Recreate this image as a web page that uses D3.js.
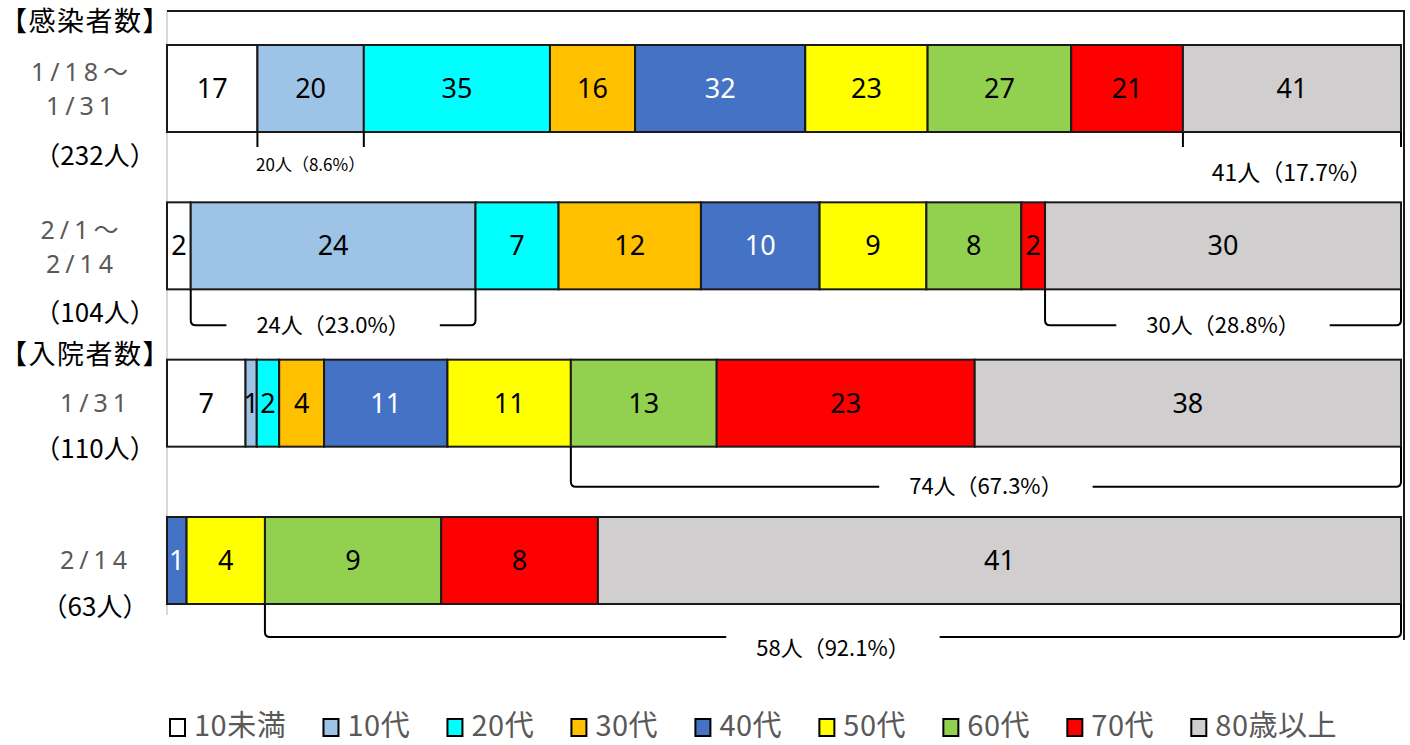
<!DOCTYPE html>
<html>
<head>
<meta charset="utf-8">
<script src="https://cdn.jsdelivr.net/npm/d3@7"></script>
<style>
  body { margin: 0; background: #fff; }
  svg { display: block; font-family: "Noto Sans CJK JP", "Noto Sans", sans-serif; }
</style>
</head>
<body>
<svg id="chart" width="1410" height="745"></svg>
<script>
// age groups and colours
const categories = ["10未満", "10代", "20代", "30代", "40代", "50代", "60代", "70代", "80歳以上"];
const colors = ["#ffffff", "#9dc3e6", "#00ffff", "#ffc000", "#4472c4", "#ffff00", "#92d050", "#ff0000", "#d0cece"];

// rows
const periods = [["1/18～", "1/31"], ["2/1～", "2/14"], ["1/31"], ["2/14"]];
const groupTitles = ["【感染者数】", "【入院者数】"];
const groupStart = [0, 2];

// counts per age group
const infectedJan = [17, 20, 35, 16, 32, 23, 27, 21, 41];
const infectedFeb = [2, 24, 7, 12, 10, 9, 8, 2, 30];
const hospitalJan31 = [7, 1, 2, 4, 11, 11, 13, 23, 38];
const hospitalFeb14 = [0, 0, 0, 0, 1, 4, 9, 8, 41];
const rows = [infectedJan, infectedFeb, hospitalJan31, hospitalFeb14];

// brackets: [row, first category, last category]
const bracketSpans = [[0, 1, 1], [0, 8, 8], [1, 1, 1], [1, 8, 8], [2, 6, 8], [3, 6, 8]];
const bracketLabels = ["20人（8.6%）", "41人（17.7%）", "24人（23.0%）", "30人（28.8%）", "74人（67.3%）", "58人（92.1%）"];

const svg = d3.select("#chart");
const left = 167, right = 1401;

var x = d3.scaleLinear().domain([0, 1]).range([left, right]);
var y = d3.scaleBand()
  .domain(d3.range(rows.length))
  .range([45, 604])
  .paddingInner(0.447)
  .paddingOuter(0);

// frame
svg.append("line")
  .attr("x1", left).attr("x2", left).attr("y1", 11).attr("y2", 615)
  .attr("stroke", "#d9d9d9").attr("stroke-width", 2);
svg.append("path")
  .attr("d", "M" + left + ",11H1404V640")
  .attr("fill", "none").attr("stroke", "#1a1a1a").attr("stroke-width", 2);

// stacked segments
var segs = [];
rows.forEach(function(vals, r) {
  var total = d3.sum(vals), acc = 0;
  vals.forEach(function(v, c) {
    segs.push({ row: r, cat: c, v: v, x0: acc / total, x1: (acc + v) / total });
    acc += v;
  });
});

var g = svg.append("g");
g.selectAll(".seg")
  .data(segs.filter(d => d.v > 0))
  .enter().append("rect")
    .attr("class", "seg")
    .attr("x", d => x(d.x0))
    .attr("y", d => y(d.row))
    .attr("width", d => x(d.x1) - x(d.x0))
    .attr("height", y.bandwidth())
    .attr("fill", d => colors[d.cat])
    .attr("stroke", "#1a1a1a")
    .attr("stroke-width", 2);

g.selectAll(".val")
  .data(segs.filter(d => d.v > 0))
  .enter().append("text")
    .attr("class", "val")
    .attr("x", d => (x(d.x0) + x(d.x1)) / 2)
    .attr("y", d => y(d.row) + y.bandwidth() / 2)
    .attr("dy", "0.35em")
    .attr("text-anchor", "middle")
    .style("font-family", "'Noto Sans', sans-serif")
    .style("font-size", "27px")
    .attr("fill", d => d.cat === 4 ? "#ffffff" : "#000000")
    .text(d => d.v);

// brackets (ty is measured from the bar bottom for tick-only ones)
var bStyle = [
  { depth: 15, tick: true, ty: 33, fs: 17 },
  { depth: 15, tick: true, ty: 41, fs: 23 },
  { depth: 36, ty: 0, fs: 22 },
  { depth: 36, ty: 0, fs: 22 },
  { depth: 40, ty: 0, fs: 22 },
  { depth: 33, ty: 11, fs: 22 }
];
bracketSpans.forEach(function(s, i) {
  var r = s[0], vals = rows[r], total = d3.sum(vals);
  var x0 = x(d3.sum(vals.slice(0, s[1])) / total);
  var x1 = x(d3.sum(vals.slice(0, s[2] + 1)) / total);
  var yb = y(r) + y.bandwidth(), st = bStyle[i];
  var yl = yb + st.depth, cx = (x0 + x1) / 2;
  var t = svg.append("text")
    .attr("x", cx).attr("y", st.tick ? yb + st.ty : yl + st.ty)
    .attr("dy", "0.35em")
    .attr("text-anchor", "middle")
    .style("font-size", st.fs + "px")
    .attr("fill", "#000")
    .text(bracketLabels[i]);
  if (st.tick) {
    [x0, x1].forEach(function(xx) {
      svg.append("line").attr("x1", xx).attr("x2", xx).attr("y1", yb).attr("y2", yl)
        .attr("stroke", "#000").attr("stroke-width", 2);
    });
    return;
  }
  var w = t.node().getComputedTextLength();
  var gap = w / 2 + 30, rr = 5;
  svg.append("path")
    .attr("d", "M" + x0 + "," + yb + "V" + (yl - rr) + "Q" + x0 + "," + yl + " " + (x0 + rr) + "," + yl + "H" + (cx - gap) +
      "M" + (cx + gap) + "," + yl + "H" + (x1 - rr) + "Q" + x1 + "," + yl + " " + x1 + "," + (yl - rr) + "V" + yb)
    .attr("fill", "none").attr("stroke", "#000").attr("stroke-width", 2);
});

// row labels
var lab = svg.append("g");
groupTitles.forEach(function(tt, i) {
  lab.append("text")
    .attr("x", 0).attr("y", groupStart[i] === 0 ? 22 : 355)
    .attr("dy", "0.35em")
    .style("font-size", "27px")
    .style("letter-spacing", "1.5px")
    .attr("fill", "#000")
    .text(tt);
});
periods.forEach(function(lines, r) {
  var cy = y(r) + y.bandwidth() / 2;
  var two = lines.length > 1;
  lines.forEach(function(l, k) {
    lab.append("text")
      .attr("x", two ? 82 : 96)
      .attr("y", two ? cy - 16 + k * 34 : cy)
      .attr("dy", "0.35em")
      .attr("text-anchor", "middle")
      .style("font-family", "'Noto Sans', 'Noto Sans CJK JP', sans-serif")
      .style("font-size", "25px")
      .style("letter-spacing", "5px")
      .attr("fill", "#595959")
      .text(l);
  });
  lab.append("text")
    .attr("x", 95)
    .attr("y", cy + (two ? 67 : 46))
    .attr("dy", "0.35em")
    .attr("text-anchor", "middle")
    .style("font-size", "26px")
    .attr("fill", "#000")
    .text("（" + d3.sum(rows[r]) + "人）");
});

// legend
var leg = svg.append("g");
var items = leg.selectAll(".li").data(categories).enter().append("g").attr("class", "li");
items.append("rect")
  .attr("width", 15).attr("height", 17).attr("y", 719)
  .attr("fill", (d, i) => colors[i])
  .attr("stroke", "#000").attr("stroke-width", 2);
items.append("text")
  .attr("x", 24).attr("y", 726)
  .attr("dy", "0.35em")
  .style("font-size", "29px")
  .style("letter-spacing", "0.5px")
  .attr("fill", "#595959")
  .text(d => d);
var widths = [];
items.each(function() { widths.push(24 + d3.select(this).select("text").node().getComputedTextLength()); });
var legGap = (1337 - 170 - d3.sum(widths)) / (categories.length - 1);
var lx = 170;
items.attr("transform", function(d, i) {
  var tr = "translate(" + lx + ",0)";
  lx += widths[i] + legGap;
  return tr;
});
</script>
</body>
</html>
